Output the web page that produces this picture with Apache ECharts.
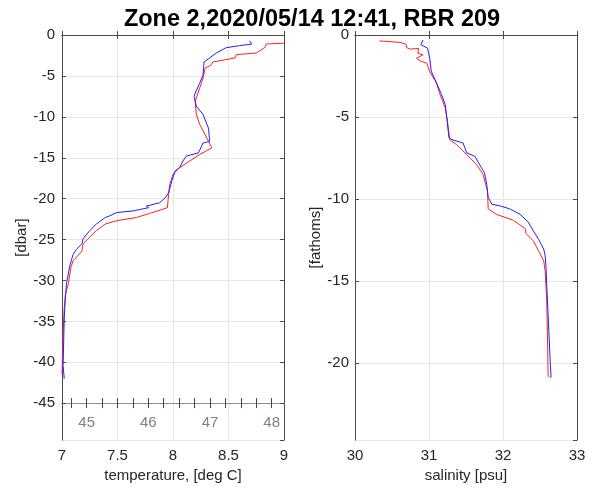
<!DOCTYPE html>
<html><head><meta charset="utf-8">
<script src="https://cdn.jsdelivr.net/npm/echarts@6/dist/echarts.min.js"></script>
<style>html,body{margin:0;padding:0;background:#fff}#c{width:598px;height:488px}</style>
</head><body><div id="c"></div>
<script>
// Temperature profiles (deg C vs dbar)
const blueTemp = [8.69,8.71,8.60,8.48,8.39,8.32,8.28,8.27,8.24,8.20,8.19,8.21,8.27,8.32,8.33,8.27,8.23,8.12,8.09,8.06,8.02,7.99,7.96,7.93,7.88,7.76,7.78,7.64,7.49,7.43,7.39,7.31,7.25,7.19,7.18,7.13,7.10,7.07,7.04,7.03,7.02,7.01,7.02];
const blueDbar = [-0.7,-1.1,-1.3,-1.55,-2.2,-2.9,-3.3,-4.9,-5.9,-7.1,-7.5,-8.7,-9.7,-11.4,-13.0,-13.2,-14.4,-14.8,-15.4,-16.2,-16.6,-17.8,-19.3,-19.9,-20.5,-20.9,-21.1,-21.5,-21.7,-22.1,-22.3,-23.1,-23.9,-24.9,-25.5,-26.2,-26.8,-28.2,-30.4,-32.2,-34.6,-40.4,-42.0];
const redTemp = [9.0,8.84,8.83,8.75,8.57,8.56,8.36,8.34,8.29,8.27,8.24,8.20,8.21,8.24,8.29,8.32,8.35,8.24,8.15,8.06,8.00,7.97,7.96,7.95,7.94,7.79,7.67,7.49,7.39,7.36,7.31,7.25,7.19,7.18,7.10,7.08,7.06,7.03,7.02,7.01,7.00];
const redDbar = [-1.0,-1.1,-1.5,-2.2,-2.4,-2.8,-3.3,-3.7,-4.05,-5.3,-6.5,-8.1,-9.7,-10.9,-12.2,-13.0,-13.8,-14.6,-15.4,-16.2,-17.0,-18.3,-19.5,-21.1,-21.3,-21.8,-22.3,-22.7,-23.1,-23.4,-23.9,-24.7,-25.5,-26.4,-27.6,-28.4,-30.2,-31.8,-33.4,-36.3,-41.5];
// Salinity profiles (psu vs fathoms)
const blueSal = [30.92,30.89,30.98,31.01,31.03,31.09,31.17,31.22,31.24,31.27,31.31,31.46,31.51,31.62,31.71,31.75,31.78,31.80,31.85,31.96,32.09,32.23,32.34,32.41,32.48,32.55,32.57,32.58,32.59,32.60,32.62,32.64,32.65,32.63];
const blueFath = [-0.30,-0.59,-0.8,-1.42,-2.2,-2.8,-3.64,-4.25,-5.05,-6.27,-6.38,-6.58,-7.19,-7.4,-8.1,-8.4,-9.1,-9.9,-10.32,-10.42,-10.6,-10.93,-11.4,-11.94,-12.45,-13.05,-13.46,-14.07,-15.18,-16.1,-18.1,-20.13,-20.85,-20.9];
const redSal = [30.33,30.61,30.69,30.70,30.74,30.86,30.85,30.92,30.83,30.88,30.97,31.01,31.10,31.15,31.22,31.25,31.28,31.37,31.51,31.64,31.73,31.79,31.80,31.91,32.14,32.30,32.31,32.41,32.48,32.55,32.57,32.58,32.59,32.60,32.61];
const redFath = [-0.36,-0.45,-0.57,-0.77,-0.86,-0.82,-1.11,-1.2,-1.42,-1.58,-1.72,-2.23,-2.93,-3.64,-4.45,-5.26,-6.38,-6.68,-7.29,-7.89,-8.5,-9.51,-10.6,-10.93,-11.3,-11.8,-12.1,-12.55,-13.16,-13.77,-14.37,-15.28,-16.1,-18.1,-20.85];
// Tick labels
const tempTicks = [7, 7.5, 8, 8.5, 9];
const salTicks = [30, 31, 32, 33];
const fahrLabels = [45, 46, 47, 48];
const fahrTicks = [44.75,45,45.25,45.5,45.75,46,46.25,46.5,46.75,47,47.25,47.5,47.75,48];
const titleText = 'Zone 2,2020/05/14 12:41, RBR 209';

const FONT = 'Liberation Sans';
const FS = 15;
const AX = '#262626', LN = '#4a4a4a', GRID = '#e6e6e6';
const pair = (xs, ys) => xs.map((v, i) => [v, -ys[i]]);
const negLabel = v => v === 0 ? '0' : '-' + v;

const mirrorX = (g, min, max, interval) => ({gridIndex: g, type: 'value', position: 'top', min, max, interval,
  axisLine: {show: true, lineStyle: {color: LN}}, axisTick: {show: true, inside: true, length: 4, lineStyle: {color: LN}},
  axisLabel: {show: false}, splitLine: {show: false}});
const mirrorY = (g, max) => ({gridIndex: g, type: 'value', position: 'right', inverse: true, min: 0, max, interval: 5,
  axisLine: {show: true, lineStyle: {color: LN}}, axisTick: {show: true, inside: true, length: 4, lineStyle: {color: LN}},
  axisLabel: {show: false}, splitLine: {show: false}});
const fahrAxis = (inside) => ({gridIndex: 0, type: 'value', position: 'bottom', offset: -37, min: 44.6, max: 48.2,
  axisLine: {show: true, lineStyle: {color: '#8c8c8c'}},
  axisTick: {show: true, inside, length: 5, customValues: fahrTicks, lineStyle: {color: '#444'}},
  axisLabel: {show: !inside, customValues: fahrLabels, color: '#808080', fontFamily: FONT, fontSize: FS, margin: 12},
  splitLine: {show: false}});

const opt = {
  animation: false,
  title: {text: titleText, left: 307, textAlign: 'center', top: 3, textStyle: {fontFamily: FONT, fontSize: 23.5, fontWeight: 'bold', color: '#000'}},
  grid: [
    {left: 62, right: 314, top: 35, bottom: 46},
    {left: 355, right: 21, top: 35, bottom: 46}
  ],
  xAxis: [
    {gridIndex: 0, type: 'value', min: 7, max: 9, interval: 0.5, position: 'bottom',
      name: 'temperature, [deg C]', nameLocation: 'middle', nameGap: 27,
      nameTextStyle: {fontFamily: FONT, fontSize: FS, color: AX},
      axisLine: {lineStyle: {color: LN}}, axisTick: {inside: true, length: 4, lineStyle: {color: LN}},
      axisLabel: {fontFamily: FONT, fontSize: FS, color: AX, margin: 8, formatter: v => String(v)},
      splitLine: {show: true, lineStyle: {color: GRID}}},
    mirrorX(0, 7, 9, 0.5),
    fahrAxis(true),
    fahrAxis(false),
    {gridIndex: 1, type: 'value', min: 30, max: 33, interval: 1, position: 'bottom',
      name: 'salinity [psu]', nameLocation: 'middle', nameGap: 27,
      nameTextStyle: {fontFamily: FONT, fontSize: FS, color: AX},
      axisLine: {lineStyle: {color: LN}}, axisTick: {inside: true, length: 4, lineStyle: {color: LN}},
      axisLabel: {fontFamily: FONT, fontSize: FS, color: AX, margin: 8},
      splitLine: {show: true, lineStyle: {color: GRID}}},
    mirrorX(1, 30, 33, 1)
  ],
  yAxis: [
    {gridIndex: 0, type: 'value', inverse: true, min: 0, max: 49.5, interval: 5, position: 'left',
      name: '[dbar]', nameLocation: 'middle', nameGap: 20, nameRotate: 90,
      nameTextStyle: {fontFamily: FONT, fontSize: FS, color: AX},
      axisLine: {show: true, lineStyle: {color: LN}}, axisTick: {show: true, inside: true, length: 4, lineStyle: {color: LN}},
      axisLabel: {fontFamily: FONT, fontSize: FS, color: AX, margin: 7, formatter: negLabel, showMaxLabel: false},
      splitLine: {show: true, lineStyle: {color: GRID}}},
    mirrorY(0, 49.5),
    {gridIndex: 1, type: 'value', inverse: true, min: 0, max: 24.7, interval: 5, position: 'left',
      name: '[fathoms]', nameLocation: 'middle', nameGap: 20, nameRotate: 90,
      nameTextStyle: {fontFamily: FONT, fontSize: FS, color: AX},
      axisLine: {show: true, lineStyle: {color: LN}}, axisTick: {show: true, inside: true, length: 4, lineStyle: {color: LN}},
      axisLabel: {fontFamily: FONT, fontSize: FS, color: AX, margin: 6, formatter: negLabel, showMaxLabel: false},
      splitLine: {show: true, lineStyle: {color: GRID}}},
    mirrorY(1, 24.7)
  ],
  series: [
    {type: 'line', xAxisIndex: 0, yAxisIndex: 0, data: pair(blueTemp, blueDbar), showSymbol: false, lineStyle: {color: '#2020ff', width: 1}, z: 3},
    {type: 'line', xAxisIndex: 0, yAxisIndex: 0, data: pair(redTemp, redDbar), showSymbol: false, lineStyle: {color: '#ff2020', width: 1}, z: 2},
    {type: 'line', xAxisIndex: 4, yAxisIndex: 2, data: pair(blueSal, blueFath), showSymbol: false, lineStyle: {color: '#2020ff', width: 1}, z: 3},
    {type: 'line', xAxisIndex: 4, yAxisIndex: 2, data: pair(redSal, redFath), showSymbol: false, lineStyle: {color: '#ff2020', width: 1}, z: 2}
  ]
};
echarts.init(document.getElementById('c')).setOption(opt);
</script></body></html>
